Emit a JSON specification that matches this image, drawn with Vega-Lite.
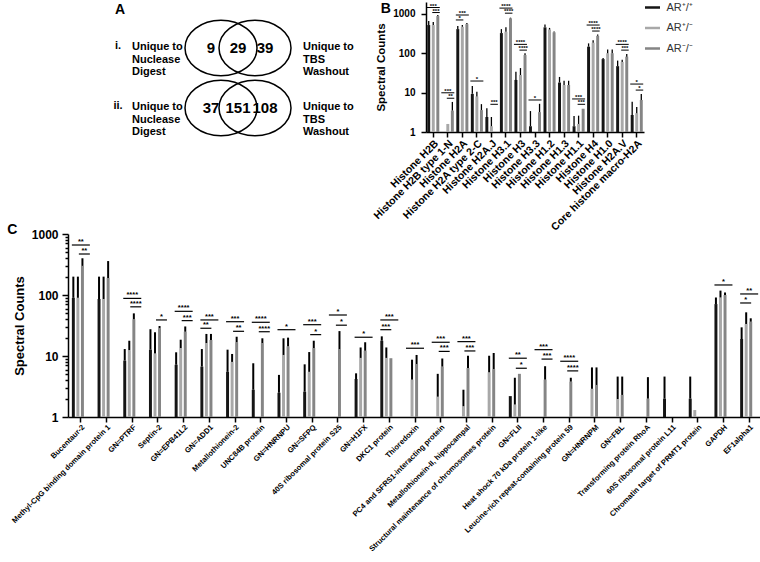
{
  "$schema": "https://vega.github.io/schema/vega-lite/v6.json",
  "background": "white",
  "padding": {"left": 7, "top": 2, "right": 0, "bottom": 0},
  "datasets": {
    "venn": [
      {"set": "i.", "region": "Nuclease Digest", "count": 9},
      {"set": "i.", "region": "Both", "count": 29},
      {"set": "i.", "region": "TBS Washout", "count": 39},
      {"set": "ii.", "region": "Nuclease Digest", "count": 37},
      {"set": "ii.", "region": "Both", "count": 151},
      {"set": "ii.", "region": "TBS Washout", "count": 108}
    ],
    "histone": [
      {"protein": "Histone H2B", "genotype": "+/+", "value": 520, "err": 660},
      {"protein": "Histone H2B", "genotype": "+/-", "value": 520, "err": 620},
      {"protein": "Histone H2B", "genotype": "-/-", "value": 880, "err": 930},
      {"protein": "Histone H2B type 1-N", "genotype": "+/-", "value": 1.6},
      {"protein": "Histone H2B type 1-N", "genotype": "-/-", "value": 3.5, "err": 5.8},
      {"protein": "Histone H2A", "genotype": "+/+", "value": 410, "err": 490},
      {"protein": "Histone H2A", "genotype": "+/-", "value": 470, "err": 520},
      {"protein": "Histone H2A", "genotype": "-/-", "value": 550, "err": 590},
      {"protein": "Histone H2A type 2-C", "genotype": "+/+", "value": 9.3, "err": 14.7},
      {"protein": "Histone H2A type 2-C", "genotype": "+/-", "value": 8, "err": 10.5},
      {"protein": "Histone H2A type 2-C", "genotype": "-/-", "value": 3.6, "err": 5.1},
      {"protein": "Histone H2A.J", "genotype": "+/+", "value": 2.4, "err": 4},
      {"protein": "Histone H2A.J", "genotype": "+/-", "value": 1.4, "err": 2.4},
      {"protein": "Histone H3.1", "genotype": "+/+", "value": 325, "err": 410},
      {"protein": "Histone H3.1", "genotype": "+/-", "value": 350, "err": 460},
      {"protein": "Histone H3.1", "genotype": "-/-", "value": 770, "err": 800},
      {"protein": "Histone H3", "genotype": "+/+", "value": 21, "err": 34},
      {"protein": "Histone H3", "genotype": "+/-", "value": 28, "err": 42},
      {"protein": "Histone H3", "genotype": "-/-", "value": 90, "err": 100},
      {"protein": "Histone H3.3", "genotype": "+/+", "value": 1.4, "err": 3.4},
      {"protein": "Histone H3.3", "genotype": "-/-", "value": 3.2, "err": 5.2},
      {"protein": "Histone H1.2", "genotype": "+/+", "value": 455, "err": 540},
      {"protein": "Histone H1.2", "genotype": "+/-", "value": 400, "err": 440},
      {"protein": "Histone H1.2", "genotype": "-/-", "value": 340, "err": 355},
      {"protein": "Histone H1.3", "genotype": "+/+", "value": 18, "err": 25},
      {"protein": "Histone H1.3", "genotype": "+/-", "value": 15.6, "err": 20},
      {"protein": "Histone H1.3", "genotype": "-/-", "value": 15.6, "err": 20},
      {"protein": "Histone H1.1", "genotype": "+/+", "value": 1.4, "err": 2.55},
      {"protein": "Histone H1.1", "genotype": "+/-", "value": 1.6, "err": 2.6},
      {"protein": "Histone H1.1", "genotype": "-/-", "value": 3.9},
      {"protein": "Histone H4", "genotype": "+/+", "value": 147, "err": 178},
      {"protein": "Histone H4", "genotype": "+/-", "value": 185, "err": 215},
      {"protein": "Histone H4", "genotype": "-/-", "value": 277, "err": 300},
      {"protein": "Histone H1.0", "genotype": "+/+", "value": 71, "err": 76},
      {"protein": "Histone H1.0", "genotype": "+/-", "value": 100, "err": 125},
      {"protein": "Histone H1.0", "genotype": "-/-", "value": 100, "err": 125},
      {"protein": "Histone H2A.V", "genotype": "+/+", "value": 47, "err": 65},
      {"protein": "Histone H2A.V", "genotype": "+/-", "value": 60, "err": 68},
      {"protein": "Histone H2A.V", "genotype": "-/-", "value": 82, "err": 95},
      {"protein": "Core histone macro-H2A", "genotype": "+/+", "value": 2.7, "err": 5.9},
      {"protein": "Core histone macro-H2A", "genotype": "+/-", "value": 3, "err": 4.3},
      {"protein": "Core histone macro-H2A", "genotype": "-/-", "value": 6.5, "err": 9.2}
    ],
    "histSig": [
      {"protein": "Histone H2B", "comparison": "+/+ vs -/-", "level": 1450, "stars": "***"},
      {"protein": "Histone H2B", "comparison": "+/- vs -/-", "level": 1080, "stars": "***"},
      {"protein": "Histone H2B type 1-N", "comparison": "+/+ vs -/-", "level": 9.9, "stars": "***"},
      {"protein": "Histone H2B type 1-N", "comparison": "+/- vs -/-", "level": 7.2, "stars": "**"},
      {"protein": "Histone H2A", "comparison": "+/+ vs -/-", "level": 935, "stars": "***"},
      {"protein": "Histone H2A", "comparison": "+/+ vs +/-", "level": 700, "stars": "*"},
      {"protein": "Histone H2A type 2-C", "comparison": "+/+ vs -/-", "level": 19.7, "stars": "*"},
      {"protein": "Histone H2A.J", "comparison": "+/- vs -/-", "level": 5.05, "stars": "***"},
      {"protein": "Histone H3.1", "comparison": "+/+ vs -/-", "level": 1400, "stars": "****"},
      {"protein": "Histone H3.1", "comparison": "+/- vs -/-", "level": 1040, "stars": "****"},
      {"protein": "Histone H3", "comparison": "+/+ vs -/-", "level": 168, "stars": "****"},
      {"protein": "Histone H3", "comparison": "+/- vs -/-", "level": 120, "stars": "****"},
      {"protein": "Histone H3.3", "comparison": "+/+ vs -/-", "level": 6.5, "stars": "*"},
      {"protein": "Histone H1.1", "comparison": "+/+ vs -/-", "level": 6.9, "stars": "***"},
      {"protein": "Histone H1.1", "comparison": "+/- vs -/-", "level": 5.05, "stars": "***"},
      {"protein": "Histone H4", "comparison": "+/+ vs -/-", "level": 520, "stars": "****"},
      {"protein": "Histone H4", "comparison": "+/- vs -/-", "level": 366, "stars": "****"},
      {"protein": "Histone H2A.V", "comparison": "+/+ vs -/-", "level": 168, "stars": "****"},
      {"protein": "Histone H2A.V", "comparison": "+/- vs -/-", "level": 120, "stars": "***"},
      {"protein": "Core histone macro-H2A", "comparison": "+/+ vs -/-", "level": 16.5, "stars": "*"},
      {"protein": "Core histone macro-H2A", "comparison": "+/- vs -/-", "level": 11.6, "stars": "*"}
    ],
    "proteins": [
      {"protein": "Bucentaur-2", "genotype": "+/+", "value": 90, "err": 200},
      {"protein": "Bucentaur-2", "genotype": "+/-", "value": 90, "err": 200},
      {"protein": "Bucentaur-2", "genotype": "-/-", "value": 300, "err": 400},
      {"protein": "Methyl-CpG binding domain protein 1", "genotype": "+/+", "value": 86, "err": 200},
      {"protein": "Methyl-CpG binding domain protein 1", "genotype": "+/-", "value": 86, "err": 200},
      {"protein": "Methyl-CpG binding domain protein 1", "genotype": "-/-", "value": 190, "err": 360},
      {"protein": "GN=PTRF", "genotype": "+/+", "value": 8.4, "err": 13},
      {"protein": "GN=PTRF", "genotype": "+/-", "value": 12.5, "err": 17.8},
      {"protein": "GN=PTRF", "genotype": "-/-", "value": 40, "err": 50},
      {"protein": "Septin-2", "genotype": "+/+", "value": 12.7, "err": 27.5},
      {"protein": "Septin-2", "genotype": "+/-", "value": 11, "err": 24.5},
      {"protein": "Septin-2", "genotype": "-/-", "value": 28.5, "err": 31},
      {"protein": "GN=EPB41L2", "genotype": "+/+", "value": 7.2, "err": 11.5},
      {"protein": "GN=EPB41L2", "genotype": "+/-", "value": 13.5, "err": 18.5},
      {"protein": "GN=EPB41L2", "genotype": "-/-", "value": 25, "err": 30.5},
      {"protein": "GN=ADD1", "genotype": "+/+", "value": 6.7, "err": 13},
      {"protein": "GN=ADD1", "genotype": "+/-", "value": 16.3, "err": 23},
      {"protein": "GN=ADD1", "genotype": "-/-", "value": 18.3, "err": 23},
      {"protein": "Metallothionein-2", "genotype": "+/+", "value": 5.5, "err": 12.7},
      {"protein": "Metallothionein-2", "genotype": "+/-", "value": 8, "err": 10.8},
      {"protein": "Metallothionein-2", "genotype": "-/-", "value": 16.8, "err": 20.7},
      {"protein": "UNC84B protein", "genotype": "+/+", "value": 2.8, "err": 7.6},
      {"protein": "UNC84B protein", "genotype": "-/-", "value": 16.3, "err": 19.5},
      {"protein": "GN=HNRNPU", "genotype": "+/+", "value": 2.5, "err": 4.9},
      {"protein": "GN=HNRNPU", "genotype": "+/-", "value": 10.4, "err": 19.5},
      {"protein": "GN=HNRNPU", "genotype": "-/-", "value": 14.4, "err": 20},
      {"protein": "GN=SFPQ", "genotype": "+/+", "value": 2.6, "err": 7.3},
      {"protein": "GN=SFPQ", "genotype": "+/-", "value": 5.5, "err": 11.6},
      {"protein": "GN=SFPQ", "genotype": "-/-", "value": 13.5, "err": 17.8},
      {"protein": "40S ribosomal protein S25", "genotype": "-/-", "value": 13, "err": 25.6},
      {"protein": "GN=H1FX", "genotype": "+/+", "value": 4.2, "err": 5.2},
      {"protein": "GN=H1FX", "genotype": "+/-", "value": 9.3, "err": 13.8},
      {"protein": "GN=H1FX", "genotype": "-/-", "value": 12.2, "err": 16.8},
      {"protein": "DKC1 protein", "genotype": "+/+", "value": 17.8, "err": 21},
      {"protein": "DKC1 protein", "genotype": "+/-", "value": 9.3, "err": 13.8},
      {"protein": "DKC1 protein", "genotype": "-/-", "value": 9.2},
      {"protein": "Thioredoxin", "genotype": "+/-", "value": 4.1, "err": 8.7},
      {"protein": "Thioredoxin", "genotype": "-/-", "value": 7.4, "err": 10.4},
      {"protein": "PC4 and SFRS1-interacting protein", "genotype": "+/-", "value": 2.15, "err": 5.1},
      {"protein": "PC4 and SFRS1-interacting protein", "genotype": "-/-", "value": 6.7, "err": 9.1},
      {"protein": "Metallothionein-II, hippocampal", "genotype": "+/-", "value": 1.5, "err": 2.8},
      {"protein": "Metallothionein-II, hippocampal", "genotype": "-/-", "value": 6.35, "err": 10.1},
      {"protein": "Structural maintenance of chromosomes protein", "genotype": "+/-", "value": 5.4, "err": 10.1},
      {"protein": "Structural maintenance of chromosomes protein", "genotype": "-/-", "value": 6.1, "err": 11.2},
      {"protein": "GN=FLII", "genotype": "+/+", "value": 2.2},
      {"protein": "GN=FLII", "genotype": "+/-", "value": 1.6, "err": 4.4},
      {"protein": "GN=FLII", "genotype": "-/-", "value": 5.1},
      {"protein": "Heat shock 70 kDa protein 1-like", "genotype": "-/-", "value": 4.1, "err": 6.8},
      {"protein": "Leucine-rich repeat-containing protein 59", "genotype": "-/-", "value": 3.8, "err": 4.4},
      {"protein": "GN=HNRNPM", "genotype": "+/-", "value": 2.9, "err": 6.5},
      {"protein": "GN=HNRNPM", "genotype": "-/-", "value": 3.35, "err": 6.5},
      {"protein": "GN=FBL", "genotype": "+/-", "value": 1.97, "err": 4.6},
      {"protein": "GN=FBL", "genotype": "-/-", "value": 2.3, "err": 4.6},
      {"protein": "Transforming protein RhoA", "genotype": "-/-", "value": 2, "err": 4.5},
      {"protein": "60S ribosomal protein L11", "genotype": "+/+", "value": 2, "err": 4.6},
      {"protein": "Chromatin target of PRMT1 protein", "genotype": "+/+", "value": 2, "err": 4.6},
      {"protein": "Chromatin target of PRMT1 protein", "genotype": "+/-", "value": 1.3},
      {"protein": "GAPDH", "genotype": "+/+", "value": 71, "err": 91},
      {"protein": "GAPDH", "genotype": "+/-", "value": 91, "err": 118},
      {"protein": "GAPDH", "genotype": "-/-", "value": 100, "err": 110},
      {"protein": "EF1alpha1", "genotype": "+/+", "value": 19, "err": 29.5},
      {"protein": "EF1alpha1", "genotype": "+/-", "value": 33.5, "err": 52},
      {"protein": "EF1alpha1", "genotype": "-/-", "value": 36.5, "err": 41.5}
    ],
    "proteinSig": [
      {"protein": "Bucentaur-2", "comparison": "+/+ vs -/-", "level": 660, "stars": "**"},
      {"protein": "Bucentaur-2", "comparison": "+/- vs -/-", "level": 470, "stars": "**"},
      {"protein": "GN=PTRF", "comparison": "+/+ vs -/-", "level": 88, "stars": "****"},
      {"protein": "GN=PTRF", "comparison": "+/- vs -/-", "level": 64, "stars": "****"},
      {"protein": "Septin-2", "comparison": "+/- vs -/-", "level": 39, "stars": "*"},
      {"protein": "GN=EPB41L2", "comparison": "+/+ vs -/-", "level": 54, "stars": "****"},
      {"protein": "GN=EPB41L2", "comparison": "+/- vs -/-", "level": 38, "stars": "***"},
      {"protein": "GN=ADD1", "comparison": "+/+ vs -/-", "level": 39, "stars": "***"},
      {"protein": "GN=ADD1", "comparison": "+/+ vs +/-", "level": 28.5, "stars": "**"},
      {"protein": "Metallothionein-2", "comparison": "+/+ vs -/-", "level": 36.5, "stars": "***"},
      {"protein": "Metallothionein-2", "comparison": "+/- vs -/-", "level": 25.4, "stars": "**"},
      {"protein": "UNC84B protein", "comparison": "+/+ vs -/-", "level": 35.7, "stars": "****"},
      {"protein": "UNC84B protein", "comparison": "+/- vs -/-", "level": 25, "stars": "****"},
      {"protein": "GN=HNRNPU", "comparison": "+/+ vs -/-", "level": 27, "stars": "*"},
      {"protein": "GN=SFPQ", "comparison": "+/+ vs -/-", "level": 32.6, "stars": "***"},
      {"protein": "GN=SFPQ", "comparison": "+/- vs -/-", "level": 22.4, "stars": "*"},
      {"protein": "40S ribosomal protein S25", "comparison": "+/+ vs -/-", "level": 47, "stars": "*"},
      {"protein": "40S ribosomal protein S25", "comparison": "+/- vs -/-", "level": 32, "stars": "*"},
      {"protein": "GN=H1FX", "comparison": "+/+ vs -/-", "level": 20.3, "stars": "*"},
      {"protein": "DKC1 protein", "comparison": "+/+ vs -/-", "level": 39, "stars": "***"},
      {"protein": "DKC1 protein", "comparison": "+/+ vs +/-", "level": 27, "stars": "***"},
      {"protein": "Thioredoxin", "comparison": "+/+ vs -/-", "level": 13.4, "stars": "***"},
      {"protein": "PC4 and SFRS1-interacting protein", "comparison": "+/+ vs -/-", "level": 16.8, "stars": "***"},
      {"protein": "PC4 and SFRS1-interacting protein", "comparison": "+/- vs -/-", "level": 11.9, "stars": "***"},
      {"protein": "Metallothionein-II, hippocampal", "comparison": "+/+ vs -/-", "level": 17.2, "stars": "***"},
      {"protein": "Metallothionein-II, hippocampal", "comparison": "+/- vs -/-", "level": 12.1, "stars": "***"},
      {"protein": "GN=FLII", "comparison": "+/+ vs -/-", "level": 9.2, "stars": "**"},
      {"protein": "GN=FLII", "comparison": "+/- vs -/-", "level": 6.3, "stars": "*"},
      {"protein": "Heat shock 70 kDa protein 1-like", "comparison": "+/+ vs -/-", "level": 12.7, "stars": "***"},
      {"protein": "Heat shock 70 kDa protein 1-like", "comparison": "+/- vs -/-", "level": 8.9, "stars": "***"},
      {"protein": "Leucine-rich repeat-containing protein 59", "comparison": "+/+ vs -/-", "level": 8.2, "stars": "****"},
      {"protein": "Leucine-rich repeat-containing protein 59", "comparison": "+/- vs -/-", "level": 5.7, "stars": "****"},
      {"protein": "GAPDH", "comparison": "+/+ vs -/-", "level": 146, "stars": "*"},
      {"protein": "EF1alpha1", "comparison": "+/+ vs -/-", "level": 104, "stars": "**"},
      {"protein": "EF1alpha1", "comparison": "+/+ vs +/-", "level": 74, "stars": "*"}
    ]
  },
  "vconcat": [
    {
      "hconcat": [
        {
          "width": 293,
          "height": 140,
          "data": {"name": "venn"},
          "encoding": {
            "x": {"field": "region", "type": "nominal", "axis": null, "scale": {"type": "point", "domain": ["Nuclease Digest", "Both", "TBS Washout"], "range": [143, 197], "padding": 0}},
            "y": {"field": "set", "type": "nominal", "axis": null, "scale": {"type": "point", "domain": ["i.", "ii."], "range": [46, 106], "padding": 0}}
          },
          "layer": [
            {
              "transform": [{"filter": "datum.region == 'Nuclease Digest'"}],
              "mark": {"type": "point", "shape": "M -1 0 C -1 -0.425 -0.552 -0.77 0 -0.77 C 0.552 -0.77 1 -0.425 1 0 C 1 0.425 0.552 0.77 0 0.77 C -0.552 0.77 -1 0.425 -1 0 Z", "size": 5184, "filled": false, "stroke": "#000", "strokeWidth": 1.5, "opacity": 1, "xOffset": 10}
            },
            {
              "transform": [{"filter": "datum.region == 'TBS Washout'"}],
              "mark": {"type": "point", "shape": "M -1 0 C -1 -0.425 -0.552 -0.77 0 -0.77 C 0.552 -0.77 1 -0.425 1 0 C 1 0.425 0.552 0.77 0 0.77 C -0.552 0.77 -1 0.425 -1 0 Z", "size": 5184, "filled": false, "stroke": "#000", "strokeWidth": 1.5, "opacity": 1, "xOffset": -10}
            },
            {
              "mark": {"type": "text", "fontSize": 15, "fontWeight": "bold", "color": "#000", "baseline": "middle"},
              "encoding": {"text": {"field": "count", "type": "quantitative"}}
            },
            {
              "transform": [{"filter": "datum.region == 'Nuclease Digest' && datum.set == 'i.'"}],
              "mark": {"type": "text", "text": "A", "fontSize": 14, "fontWeight": "bold", "color": "#000", "align": "center", "baseline": "top", "dx": -91, "dy": -45}
            },
            {
              "transform": [{"filter": "datum.region == 'Nuclease Digest'"}],
              "mark": {"type": "text", "fontSize": 11, "fontWeight": "bold", "color": "#000", "align": "center", "baseline": "middle", "dx": -93, "dy": -2},
              "encoding": {"text": {"field": "set", "type": "nominal"}}
            },
            {
              "transform": [{"filter": "datum.region == 'Nuclease Digest'"}],
              "mark": {"type": "text", "text": ["Unique to", "Nuclease", "Digest"], "lineHeight": 12.7, "fontSize": 11, "fontWeight": "bold", "color": "#000", "align": "left", "baseline": "middle", "dx": -79, "dy": -1}
            },
            {
              "transform": [{"filter": "datum.region == 'TBS Washout'"}],
              "mark": {"type": "text", "text": ["Unique to", "TBS", "Washout"], "lineHeight": 12.7, "fontSize": 11, "fontWeight": "bold", "color": "#000", "align": "left", "baseline": "middle", "dx": 38, "dy": -1}
            }
          ]
        },
        {
          "width": 218,
          "height": 130,
          "title": {"text": "B", "anchor": "start", "frame": "bounds", "offset": -14, "dx": 9, "fontSize": 14, "fontWeight": "bold", "color": "#000"},
          "layer": [
            {
              "data": {"name": "histone"},
              "mark": {"type": "bar"},
              "encoding": {
                "x": {"field": "protein", "type": "nominal", "title": null,
                  "scale": {"domain": ["Histone H2B", "Histone H2B type 1-N", "Histone H2A", "Histone H2A type 2-C", "Histone H2A.J", "Histone H3.1", "Histone H3", "Histone H3.3", "Histone H1.2", "Histone H1.3", "Histone H1.1", "Histone H4", "Histone H1.0", "Histone H2A.V", "Core histone macro-H2A"], "paddingInner": 0.17, "paddingOuter": 0.085},
                  "axis": {"labelAngle": -45, "labelFontSize": 10.5, "tickSize": 5, "labelPadding": 1}},
                "xOffset": {"field": "genotype", "type": "nominal", "scale": {"domain": ["+/+", "+/-", "-/-"], "paddingInner": 0.35}},
                "y": {"field": "value", "type": "quantitative", "title": "Spectral Counts", "stack": null,
                  "scale": {"type": "log", "domain": [1, 2000], "nice": false},
                  "axis": {"values": [1, 10, 100, 1000], "format": "d", "labelFontSize": 10, "titleFontSize": 11.5, "tickSize": 5, "labelPadding": 6, "titlePadding": 6}},
                "y2": {"datum": 1},
                "color": {"field": "genotype", "type": "nominal",
                  "scale": {"domain": ["+/+", "+/-", "-/-"], "range": ["#151515", "#a8a8a8", "#858585"]},
                  "legend": {"title": null, "orient": "right", "offset": 2.5, "padding": 0, "labelFontSize": 11, "labelColor": "#333", "labelOffset": 8.5, "rowPadding": 8.5,
                    "symbolType": "M -1.5 -0.25 L 1.5 -0.25 L 1.5 0.25 L -1.5 0.25 Z", "symbolSize": 100, "symbolStrokeWidth": 0,
                    "labelExpr": "datum.label == '+/+' ? 'AR⁺/⁺' : datum.label == '+/-' ? 'AR⁺/⁻' : 'AR⁻/⁻'"}}
              }
            },
            {
              "data": {"name": "histone"},
              "transform": [{"filter": "isValid(datum.err)"}],
              "mark": {"type": "rule", "color": "#000", "strokeWidth": 1.3},
              "encoding": {
                "x": {"field": "protein", "type": "nominal", "title": null},
                "xOffset": {"field": "genotype", "type": "nominal"},
                "y": {"field": "value", "type": "quantitative", "title": "Spectral Counts", "scale": {"type": "log"}},
                "y2": {"field": "err"}
              }
            },
            {
              "data": {"name": "histSig"},
              "transform": [{"filter": "datum.comparison == '+/+ vs -/-'"}],
              "mark": {"type": "rule", "color": "#000", "strokeWidth": 1, "xOffset": -6.5, "x2Offset": 6.5},
              "encoding": {
                "x": {"field": "protein", "type": "nominal", "title": null},
                "x2": {"field": "protein"},
                "y": {"field": "level", "type": "quantitative", "title": "Spectral Counts", "scale": {"type": "log"}}
              }
            },
            {
              "data": {"name": "histSig"},
              "transform": [{"filter": "datum.comparison == '+/- vs -/-'"}],
              "mark": {"type": "rule", "color": "#000", "strokeWidth": 1, "xOffset": -1, "x2Offset": 6.5},
              "encoding": {
                "x": {"field": "protein", "type": "nominal", "title": null},
                "x2": {"field": "protein"},
                "y": {"field": "level", "type": "quantitative", "title": "Spectral Counts", "scale": {"type": "log"}}
              }
            },
            {
              "data": {"name": "histSig"},
              "transform": [{"filter": "datum.comparison == '+/+ vs +/-'"}],
              "mark": {"type": "rule", "color": "#000", "strokeWidth": 1, "xOffset": -6.5, "x2Offset": 1},
              "encoding": {
                "x": {"field": "protein", "type": "nominal", "title": null},
                "x2": {"field": "protein"},
                "y": {"field": "level", "type": "quantitative", "title": "Spectral Counts", "scale": {"type": "log"}}
              }
            },
            {
              "data": {"name": "histSig"},
              "transform": [{"filter": "datum.comparison == '+/+ vs -/-'"}],
              "mark": {"type": "text", "fontSize": 6, "fontWeight": "bold", "color": "#000", "baseline": "bottom", "dy": 1, "xOffset": 0},
              "encoding": {
                "x": {"field": "protein", "type": "nominal", "title": null},
                "y": {"field": "level", "type": "quantitative", "title": "Spectral Counts", "scale": {"type": "log"}},
                "text": {"field": "stars", "type": "nominal"}
              }
            },
            {
              "data": {"name": "histSig"},
              "transform": [{"filter": "datum.comparison == '+/- vs -/-'"}],
              "mark": {"type": "text", "fontSize": 6, "fontWeight": "bold", "color": "#000", "baseline": "bottom", "dy": 1, "xOffset": 2.75},
              "encoding": {
                "x": {"field": "protein", "type": "nominal", "title": null},
                "y": {"field": "level", "type": "quantitative", "title": "Spectral Counts", "scale": {"type": "log"}},
                "text": {"field": "stars", "type": "nominal"}
              }
            },
            {
              "data": {"name": "histSig"},
              "transform": [{"filter": "datum.comparison == '+/+ vs +/-'"}],
              "mark": {"type": "text", "fontSize": 6, "fontWeight": "bold", "color": "#000", "baseline": "bottom", "dy": 1, "xOffset": -2.75},
              "encoding": {
                "x": {"field": "protein", "type": "nominal", "title": null},
                "y": {"field": "level", "type": "quantitative", "title": "Spectral Counts", "scale": {"type": "log"}},
                "text": {"field": "stars", "type": "nominal"}
              }
            }
          ]
        }
      ],
      "spacing": 10,
      "resolve": {"scale": {"color": "independent"}, "legend": {"color": "independent"}}
    },
    {
      "width": 694,
      "height": 183,
      "title": {"text": "C", "anchor": "start", "frame": "bounds", "offset": -9, "dx": -3, "fontSize": 14, "fontWeight": "bold", "color": "#000"},
      "layer": [
        {
          "data": {"name": "proteins"},
          "mark": {"type": "bar"},
          "encoding": {
            "x": {"field": "protein", "type": "nominal", "title": null,
              "scale": {"domain": ["Bucentaur-2", "Methyl-CpG binding domain protein 1", "GN=PTRF", "Septin-2", "GN=EPB41L2", "GN=ADD1", "Metallothionein-2", "UNC84B protein", "GN=HNRNPU", "GN=SFPQ", "40S ribosomal protein S25", "GN=H1FX", "DKC1 protein", "Thioredoxin", "PC4 and SFRS1-interacting protein", "Metallothionein-II, hippocampal", "Structural maintenance of chromosomes protein", "GN=FLII", "Heat shock 70 kDa protein 1-like", "Leucine-rich repeat-containing protein 59", "GN=HNRNPM", "GN=FBL", "Transforming protein RhoA", "60S ribosomal protein L11", "Chromatin target of PRMT1 protein", "GAPDH", "EF1alpha1"], "paddingInner": 0.3, "paddingOuter": 0.15},
              "axis": {"labelAngle": -45, "labelFontSize": 7.6, "tickSize": 5, "labelPadding": 1}},
            "xOffset": {"field": "genotype", "type": "nominal", "scale": {"domain": ["+/+", "+/-", "-/-"], "paddingInner": 0.35}},
            "y": {"field": "value", "type": "quantitative", "title": "Spectral Counts", "stack": null,
              "scale": {"type": "log", "domain": [1, 1000], "nice": false},
              "axis": {"values": [1, 2, 3, 4, 5, 6, 7, 8, 9, 10, 20, 30, 40, 50, 60, 70, 80, 90, 100, 200, 300, 400, 500, 600, 700, 800, 900, 1000], "format": "d", "labelOverlap": false,
                "labelExpr": "indexof([1, 10, 100, 1000], datum.value) >= 0 ? datum.label : ''",
                "tickSize": {"condition": {"test": "indexof([1, 10, 100, 1000], datum.value) >= 0", "value": 6}, "value": 3},
                "labelFontSize": 12, "titleFontSize": 13, "labelPadding": 4, "titlePadding": 5}},
            "y2": {"datum": 1},
            "color": {"field": "genotype", "type": "nominal", "scale": {"domain": ["+/+", "+/-", "-/-"], "range": ["#151515", "#a8a8a8", "#858585"]}, "legend": null}
          }
        },
        {
          "data": {"name": "proteins"},
          "transform": [{"filter": "isValid(datum.err)"}],
          "mark": {"type": "rule", "color": "#000", "strokeWidth": 2},
          "encoding": {
            "x": {"field": "protein", "type": "nominal", "title": null},
            "xOffset": {"field": "genotype", "type": "nominal"},
            "y": {"field": "value", "type": "quantitative", "title": "Spectral Counts", "scale": {"type": "log"}},
            "y2": {"field": "err"}
          }
        },
        {
          "data": {"name": "proteinSig"},
          "transform": [{"filter": "datum.comparison == '+/+ vs -/-'"}],
          "mark": {"type": "rule", "color": "#000", "strokeWidth": 1.2, "xOffset": -9, "x2Offset": 9},
          "encoding": {
            "x": {"field": "protein", "type": "nominal", "title": null},
            "x2": {"field": "protein"},
            "y": {"field": "level", "type": "quantitative", "title": "Spectral Counts", "scale": {"type": "log"}}
          }
        },
        {
          "data": {"name": "proteinSig"},
          "transform": [{"filter": "datum.comparison == '+/- vs -/-'"}],
          "mark": {"type": "rule", "color": "#000", "strokeWidth": 1.2, "xOffset": -2, "x2Offset": 9},
          "encoding": {
            "x": {"field": "protein", "type": "nominal", "title": null},
            "x2": {"field": "protein"},
            "y": {"field": "level", "type": "quantitative", "title": "Spectral Counts", "scale": {"type": "log"}}
          }
        },
        {
          "data": {"name": "proteinSig"},
          "transform": [{"filter": "datum.comparison == '+/+ vs +/-'"}],
          "mark": {"type": "rule", "color": "#000", "strokeWidth": 1.2, "xOffset": -9, "x2Offset": 2},
          "encoding": {
            "x": {"field": "protein", "type": "nominal", "title": null},
            "x2": {"field": "protein"},
            "y": {"field": "level", "type": "quantitative", "title": "Spectral Counts", "scale": {"type": "log"}}
          }
        },
        {
          "data": {"name": "proteinSig"},
          "transform": [{"filter": "datum.comparison == '+/+ vs -/-'"}],
          "mark": {"type": "text", "fontSize": 7.5, "fontWeight": "bold", "color": "#000", "baseline": "bottom", "dy": 1, "xOffset": 0},
          "encoding": {
            "x": {"field": "protein", "type": "nominal", "title": null},
            "y": {"field": "level", "type": "quantitative", "title": "Spectral Counts", "scale": {"type": "log"}},
            "text": {"field": "stars", "type": "nominal"}
          }
        },
        {
          "data": {"name": "proteinSig"},
          "transform": [{"filter": "datum.comparison == '+/- vs -/-'"}],
          "mark": {"type": "text", "fontSize": 7.5, "fontWeight": "bold", "color": "#000", "baseline": "bottom", "dy": 1, "xOffset": 3.5},
          "encoding": {
            "x": {"field": "protein", "type": "nominal", "title": null},
            "y": {"field": "level", "type": "quantitative", "title": "Spectral Counts", "scale": {"type": "log"}},
            "text": {"field": "stars", "type": "nominal"}
          }
        },
        {
          "data": {"name": "proteinSig"},
          "transform": [{"filter": "datum.comparison == '+/+ vs +/-'"}],
          "mark": {"type": "text", "fontSize": 7.5, "fontWeight": "bold", "color": "#000", "baseline": "bottom", "dy": 1, "xOffset": -3.5},
          "encoding": {
            "x": {"field": "protein", "type": "nominal", "title": null},
            "y": {"field": "level", "type": "quantitative", "title": "Spectral Counts", "scale": {"type": "log"}},
            "text": {"field": "stars", "type": "nominal"}
          }
        }
      ]
    }
  ],
  "spacing": -10,
  "resolve": {"scale": {"color": "independent"}, "legend": {"color": "independent"}},
  "config": {
    "font": "Liberation Sans",
    "view": {"stroke": null},
    "axis": {"grid": false, "domainColor": "#000", "domainWidth": 1.5, "tickColor": "#000", "tickWidth": 1.5, "labelColor": "#000", "labelFontWeight": "bold", "titleColor": "#000", "titleFontWeight": "bold", "labelFont": "Liberation Sans", "titleFont": "Liberation Sans"},
    "legend": {"labelFont": "Liberation Sans"},
    "title": {"font": "Liberation Sans"}
  }
}
